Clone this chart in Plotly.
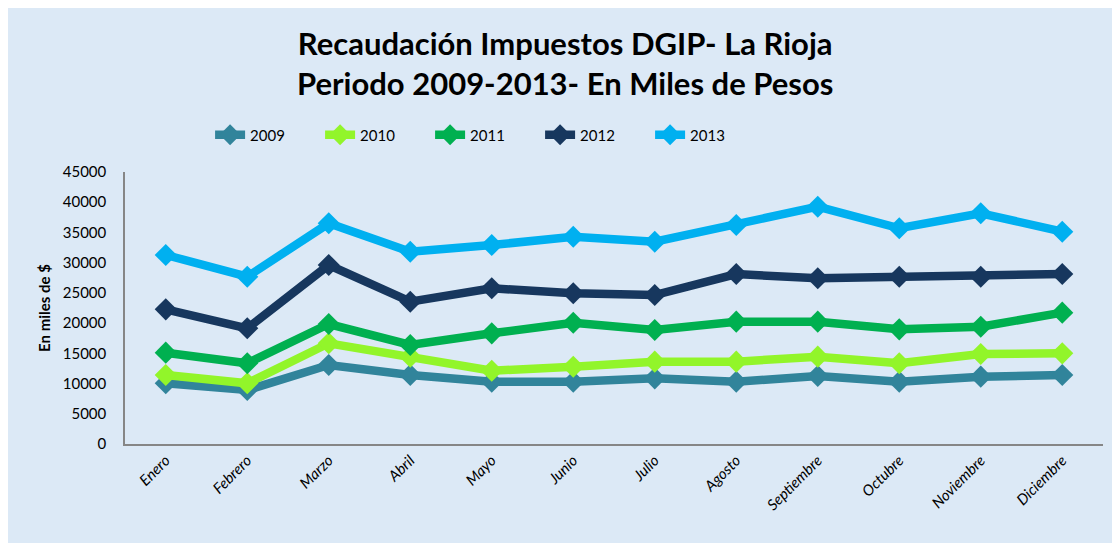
import plotly.graph_objects as go

months = ["Enero", "Febrero", "Marzo", "Abril", "Mayo", "Junio", "Julio",
          "Agosto", "Septiembre", "Octubre", "Noviembre", "Diciembre"]

y2009 = [10040, 8930, 13070, 11420, 10310, 10310, 10860, 10310, 11250, 10310, 11140, 11420]
y2010 = [11420, 10040, 16660, 14450, 12130, 12790, 13620, 13620, 14450, 13350, 14890, 15000]
y2011 = [15110, 13350, 19850, 16380, 18310, 20070, 18860, 20240, 20240, 18970, 19410, 21730]
y2012 = [22280, 19140, 29610, 23540, 25760, 24930, 24650, 28120, 27410, 27680, 27680, 28120]
y2013 = [31270, 27680, 36510, 31810, 32920, 34300, 33470, 36230, 39260, 35690, 38170, 35120]

series = [
    ("2009", y2009, "#31849B"),
    ("2010", y2010, "#92F52A"),
    ("2011", y2011, "#00B050"),
    ("2012", y2012, "#17375E"),
    ("2013", y2013, "#00B0F0"),
]

fig = go.Figure()
for name, vals, color in series:
    fig.add_trace(go.Scatter(
        x=months, y=vals, name=name, mode="lines+markers",
        line=dict(color=color, width=8.5),
        marker=dict(symbol="diamond", size=17, color=color),
    ))

fig.add_annotation(
    text="<b>Recaudación Impuestos DGIP- La Rioja</b><br><b>Periodo 2009-2013- En Miles de Pesos</b>",
    xref="paper", yref="paper", x=0.4504, xanchor="center",
    y=1.40, yanchor="middle", showarrow=False,
    font=dict(family="Lato", size=31, color="#000000"),
    align="center",
)

fig.update_layout(
    width=1120, height=543,
    paper_bgcolor="#DCE9F6", plot_bgcolor="#DCE9F6",
    margin=dict(l=117, r=25, t=164, b=107, autoexpand=False),
    legend=dict(
        orientation="h", x=0.087, xanchor="left", y=1.136, yanchor="middle",
        font=dict(family="Lato", size=15, color="#000000"),
        entrywidth=65, entrywidthmode="pixels",
        bgcolor="rgba(0,0,0,0)", itemwidth=30,
    ),
    showlegend=True,
)

fig.update_xaxes(
    type="category", tickangle=-45, showgrid=False, automargin=False,
    showline=True, linecolor="#868686", linewidth=1.5,
    tickfont=dict(family="Lato", size=15, color="#000000", style="italic"),
    ticks="", range=[-0.5, 11.5],
)
fig.update_yaxes(
    range=[0, 45000], dtick=5000, tickformat="d", showgrid=False, zeroline=False,
    automargin=False,
    showline=True, linecolor="#868686", linewidth=1.5,
    tickfont=dict(family="Lato", size=15, color="#000000"),
    ticks="", ticklabelstandoff=14,
    title=dict(text="En miles de $", font=dict(family="Lato", size=15, color="#000000", weight="bold"), standoff=9),
)

fig.write_html("out.html")
